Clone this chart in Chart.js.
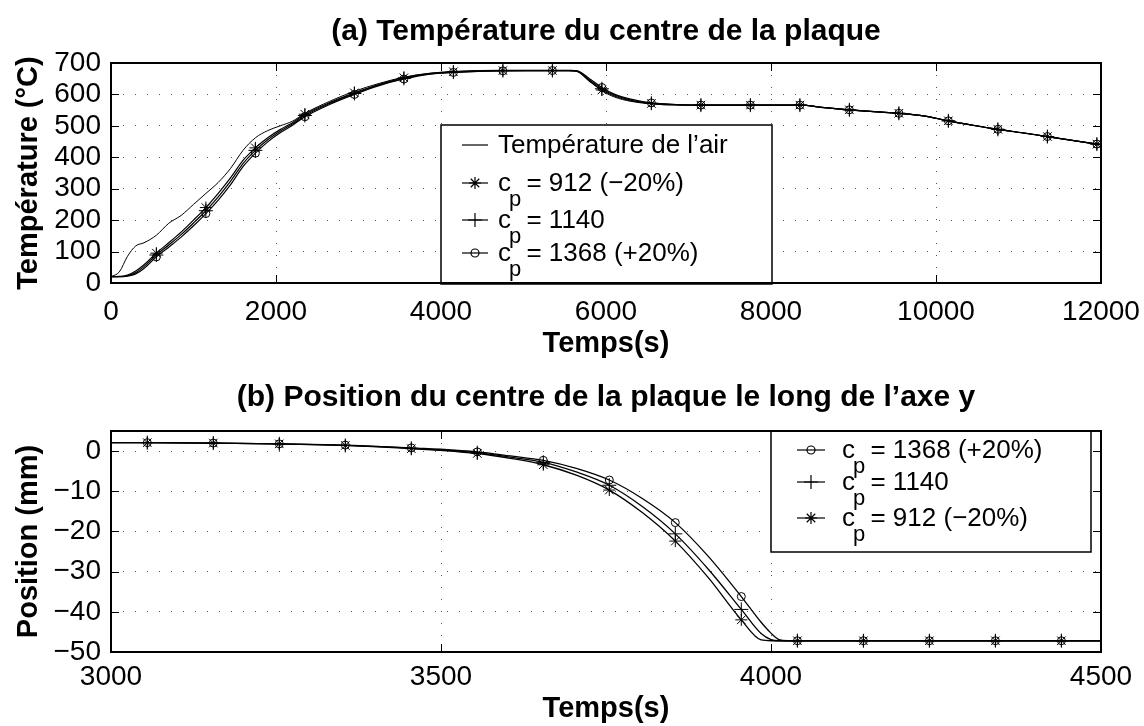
<!DOCTYPE html>
<html>
<head>
<meta charset="utf-8">
<script src="https://cdn.jsdelivr.net/npm/chart.js@4.4.0/dist/chart.umd.min.js"></script>
<style>
  body { margin: 0; background: #fff; }
  canvas { display: block; }
</style>
</head>
<body>
<canvas id="chartTemp" width="1144" height="365"></canvas>
<canvas id="chartPos" width="1144" height="361"></canvas>
<script>
// (a) plate centre temperature, time in s
const timeA = [0, 100, 200, 300, 400, 550, 700, 850, 1000, 1150, 1300, 1450, 1600, 1750, 1900, 2050, 2200, 2350,
  2650, 2950, 3250, 3550, 3850, 4150, 4450, 4750, 5050, 5350, 5550, 5650, 5800, 5950, 6100, 6300, 6550, 6850,
  7150, 7450, 7750, 8050, 8350, 8650, 8950, 9250, 9550, 9850, 10150, 10450, 10750, 11050, 11350, 11650, 11950, 12000];
const airTemp = [20, 35, 85, 118, 128, 152, 190, 215, 250, 285, 320, 365, 422, 462, 485, 500, 515, 540,
  578, 610, 635, 655, 667, 673, 676, 677, 677, 677, 677, 674, 643, 612, 592, 578, 570, 566,
  566, 566, 566, 566, 566, 558, 550, 545, 540, 532, 515, 501, 488, 477, 466, 454, 442, 440];
const temp912 = [20, 21, 25, 38, 58, 95, 128, 162, 200, 240, 285, 335, 390, 430, 462, 488, 510, 537,
  574, 605, 632, 653, 666, 672, 675, 676, 676, 676, 676, 673, 642, 614, 595, 580, 571, 567,
  566, 566, 566, 566, 566, 558, 551, 545, 540, 532, 516, 502, 489, 478, 466, 454, 442, 440];
const temp1140 = [20, 20, 23, 33, 52, 89, 121, 154, 191, 230, 274, 324, 380, 422, 456, 483, 506, 533,
  571, 603, 630, 651, 665, 671, 674, 676, 676, 676, 676, 674, 646, 618, 598, 582, 572, 568,
  566, 566, 566, 566, 566, 558, 551, 545, 540, 532, 516, 502, 489, 478, 466, 454, 442, 440];
const temp1368 = [20, 20, 22, 29, 46, 83, 114, 146, 182, 221, 264, 313, 370, 413, 449, 478, 502, 529,
  568, 600, 628, 649, 664, 670, 673, 675, 676, 676, 676, 675, 650, 622, 601, 585, 573, 568,
  566, 566, 566, 566, 566, 558, 551, 545, 540, 532, 516, 502, 489, 478, 466, 454, 442, 440];
const markTimesA = [550, 1150, 1750, 2350, 2950, 3550, 4150, 4750, 5350, 5950, 6550, 7150, 7750, 8350,
  8950, 9550, 10150, 10750, 11350, 11950];
const tempTicks = [0, 100, 200, 300, 400, 500, 600, 700];
const timeTicksA = [0, 2000, 4000, 6000, 8000, 10000, 12000];

// (b) plate centre position along y (mm)
const timeB = [3000, 3055, 3155, 3255, 3355, 3455, 3555, 3605, 3655, 3705, 3755, 3805, 3855, 3905, 3955,
  3985, 4000, 4012, 4025, 4040, 4140, 4240, 4340, 4440, 4500];
const pos1368 = [2.1, 2.1, 2.0, 1.8, 1.5, 0.8, -0.2, -1.2, -2.3, -4.3, -7.2, -11.8, -17.8, -26.2, -36.2,
  -42.6, -45.3, -46.9, -47.2, -47.2, -47.2, -47.2, -47.2, -47.2, -47.2];
const pos1140 = [2.1, 2.1, 2.0, 1.8, 1.4, 0.7, -0.4, -1.5, -2.8, -5.2, -8.5, -13.8, -20.6, -29.4, -39.4,
  -45.4, -46.9, -47.2, -47.2, -47.2, -47.2, -47.2, -47.2, -47.2, -47.2];
const pos912 = [2.1, 2.1, 2.0, 1.8, 1.4, 0.6, -0.6, -1.8, -3.4, -6.0, -9.7, -15.3, -22.4, -31.5, -42.0,
  -47.0, -47.2, -47.2, -47.2, -47.2, -47.2, -47.2, -47.2, -47.2, -47.2];
const markTimesB = [3055, 3155, 3255, 3355, 3455, 3555, 3655, 3755, 3855, 3955, 4040, 4140, 4240, 4340, 4440];
const posTicks = [-50, -40, -30, -20, -10, 0];
const timeTicksB = [3000, 3500, 4000, 4500];

const FONT = "'Liberation Sans', Arial, Helvetica, sans-serif";

function toPoints(times, vals) {
  return times.map((t, i) => ({ x: t, y: vals[i] }));
}

function fmt(v) {
  return v < 0 ? '\u2212' + Math.abs(v) : String(v);
}

// line with a marker only at the listed times
function series(label, times, vals, marks, style, radius, width) {
  return {
    label: label,
    data: toPoints(times, vals),
    borderColor: '#000',
    borderWidth: width,
    cubicInterpolationMode: 'monotone',
    pointStyle: style,
    pointBorderColor: '#000',
    pointBackgroundColor: 'rgba(0,0,0,0)',
    pointBorderWidth: 1,
    pointRadius: ctx => (style && ctx.raw && marks.includes(ctx.raw.x)) ? radius : 0,
    pointHoverRadius: 0,
  };
}

// box, inward ticks, title and legend drawn on top of the plot
const decorations = {
  id: 'decorations',
  afterDraw(chart, args, opts) {
    const { ctx, chartArea: a } = chart;
    const sx = chart.scales.x, sy = chart.scales.y;
    ctx.save();

    ctx.strokeStyle = '#000';
    ctx.lineWidth = 1;
    const tl = 8;
    sx.ticks.forEach(t => {
      const px = Math.round(sx.getPixelForValue(t.value)) + 0.5;
      ctx.beginPath();
      ctx.moveTo(px, a.bottom); ctx.lineTo(px, a.bottom - tl);
      ctx.moveTo(px, a.top); ctx.lineTo(px, a.top + tl);
      ctx.stroke();
    });
    sy.ticks.forEach(t => {
      const py = Math.round(sy.getPixelForValue(t.value)) + 0.5;
      ctx.beginPath();
      ctx.moveTo(a.left, py); ctx.lineTo(a.left + tl, py);
      ctx.moveTo(a.right, py); ctx.lineTo(a.right - tl, py);
      ctx.stroke();
    });

    // legend box
    const lg = opts.legend;
    const [l, t, r, b] = lg.box;
    ctx.fillStyle = '#fff';
    ctx.fillRect(l, t, r - l, b - t);
    ctx.lineWidth = 1.5;
    ctx.strokeRect(l, t, r - l, b - t);
    lg.rows.forEach(row => {
      const ds = chart.data.datasets[row.index];
      ctx.strokeStyle = '#000';
      ctx.lineWidth = 1.2;
      ctx.beginPath();
      ctx.moveTo(lg.lineFrom, row.y); ctx.lineTo(lg.lineTo, row.y);
      ctx.stroke();
      if (ds.pointStyle) {
        ctx.fillStyle = 'rgba(0,0,0,0)';
        Chart.helpers.drawPoint(ctx, {
          pointStyle: ds.pointStyle, radius: lg.radius[ds.pointStyle], borderWidth: 1, rotation: 0
        }, (lg.lineFrom + lg.lineTo) / 2, row.y);
      }
      ctx.fillStyle = '#000';
      ctx.textAlign = 'left';
      ctx.textBaseline = 'alphabetic';
      const parts = ds.label.split('_p');
      ctx.font = '26px ' + FONT;
      let x = lg.textX;
      ctx.fillText(parts[0], x, row.y + 8);
      if (parts.length > 1) {
        x += ctx.measureText(parts[0]).width - 2;
        ctx.font = '22px ' + FONT;
        ctx.fillText('p', x, row.y + 23);
        x += ctx.measureText('p').width - 2;
        ctx.font = '26px ' + FONT;
        ctx.fillText(parts[1], x, row.y + 8);
      }
    });

    // panel title
    ctx.fillStyle = '#000';
    ctx.font = 'bold 30px ' + FONT;
    ctx.textAlign = 'center';
    ctx.textBaseline = 'middle';
    ctx.fillText(opts.title, (a.left + a.right) / 2, opts.titleY);
    ctx.restore();

    // plot box
    ctx.save();
    ctx.strokeStyle = '#000';
    ctx.lineWidth = 2;
    ctx.strokeRect(a.left, a.top, a.right - a.left, a.bottom - a.top);
    ctx.restore();
  }
};

function axes(xTicks, yTicks, xMin, xMax, yMin, yMax, yTitle, xHeight, xTickPad, xTitlePad) {
  const grid = { color: '#555', lineWidth: 1, drawTicks: false };
  return {
    x: {
      type: 'linear', min: xMin, max: xMax,
      afterBuildTicks: s => { s.ticks = xTicks.map(v => ({ value: v })); },
      afterFit: s => { s.height = xHeight; s.paddingLeft = 0; s.paddingRight = 0; },
      grid: grid,
      border: { display: false, dash: [1, 11] },
      ticks: { autoSkip: false, maxRotation: 0, padding: xTickPad, color: '#000',
        font: { family: FONT, size: 28 }, callback: v => fmt(v) },
      title: { display: true, text: 'Temps(s)', color: '#000', padding: { top: 0, bottom: xTitlePad },
        font: { family: FONT, size: 29, weight: 'bold' } },
    },
    y: {
      type: 'linear', min: yMin, max: yMax,
      afterBuildTicks: s => { s.ticks = yTicks.map(v => ({ value: v })); },
      afterFit: s => { s.width = 111; s.paddingTop = 0; s.paddingBottom = 0; },
      grid: grid,
      border: { display: false, dash: [1, 11] },
      ticks: { autoSkip: false, padding: 10, color: '#000',
        font: { family: FONT, size: 28 }, callback: v => fmt(v) },
      title: { display: true, text: yTitle, color: '#000', padding: { top: 12, bottom: 0 },
        font: { family: FONT, size: 29, weight: 'bold' } },
    },
  };
}

new Chart(document.getElementById('chartTemp'), {
  type: 'line',
  data: {
    datasets: [
      series('Température de l\u2019air', timeA, airTemp, [], false, 0, 1),
      series('c_p = 912 (\u221220%)', timeA, temp912, markTimesA, 'star', 6, 1.2),
      series('c_p = 1140', timeA, temp1140, markTimesA, 'cross', 7, 1.2),
      series('c_p = 1368 (+20%)', timeA, temp1368, markTimesA, 'circle', 4, 1.2),
    ],
  },
  options: {
    responsive: false,
    animation: false,
    layout: { padding: { top: 63, right: 43, left: 0, bottom: 0 } },
    scales: axes(timeTicksA, tempTicks, 0, 12000, 0, 700, 'Température (°C)', 82, 12, 4),
    plugins: {
      legend: { display: false },
      tooltip: { enabled: false },
      decorations: {
        title: '(a) Température du centre de la plaque',
        titleY: 32,
        legend: {
          box: [441, 125, 772, 284],
          lineFrom: 462, lineTo: 488, textX: 498,
          radius: { star: 6, cross: 7, circle: 4 },
          rows: [{ index: 0, y: 145 }, { index: 1, y: 183 }, { index: 2, y: 220 }, { index: 3, y: 253 }],
        },
      },
    },
  },
  plugins: [decorations],
});

new Chart(document.getElementById('chartPos'), {
  type: 'line',
  data: {
    datasets: [
      series('c_p = 1368 (+20%)', timeB, pos1368, markTimesB, 'circle', 4, 1.3),
      series('c_p = 1140', timeB, pos1140, markTimesB, 'cross', 7, 1.3),
      series('c_p = 912 (\u221220%)', timeB, pos912, markTimesB, 'star', 6, 1.3),
    ],
  },
  options: {
    responsive: false,
    animation: false,
    layout: { padding: { top: 66, right: 43, left: 0, bottom: 0 } },
    scales: axes(timeTicksB, posTicks, 3000, 4500, -50, 5, 'Position (mm)', 74, 8, 0),
    plugins: {
      legend: { display: false },
      tooltip: { enabled: false },
      decorations: {
        title: '(b) Position du centre de la plaque le long de l\u2019axe y',
        titleY: 33,
        legend: {
          box: [771, 66, 1091, 187],
          lineFrom: 797, lineTo: 825, textX: 842,
          radius: { star: 6, cross: 7, circle: 4 },
          rows: [{ index: 0, y: 85 }, { index: 1, y: 117 }, { index: 2, y: 153 }],
        },
      },
    },
  },
  plugins: [decorations],
});
</script>
</body>
</html>
